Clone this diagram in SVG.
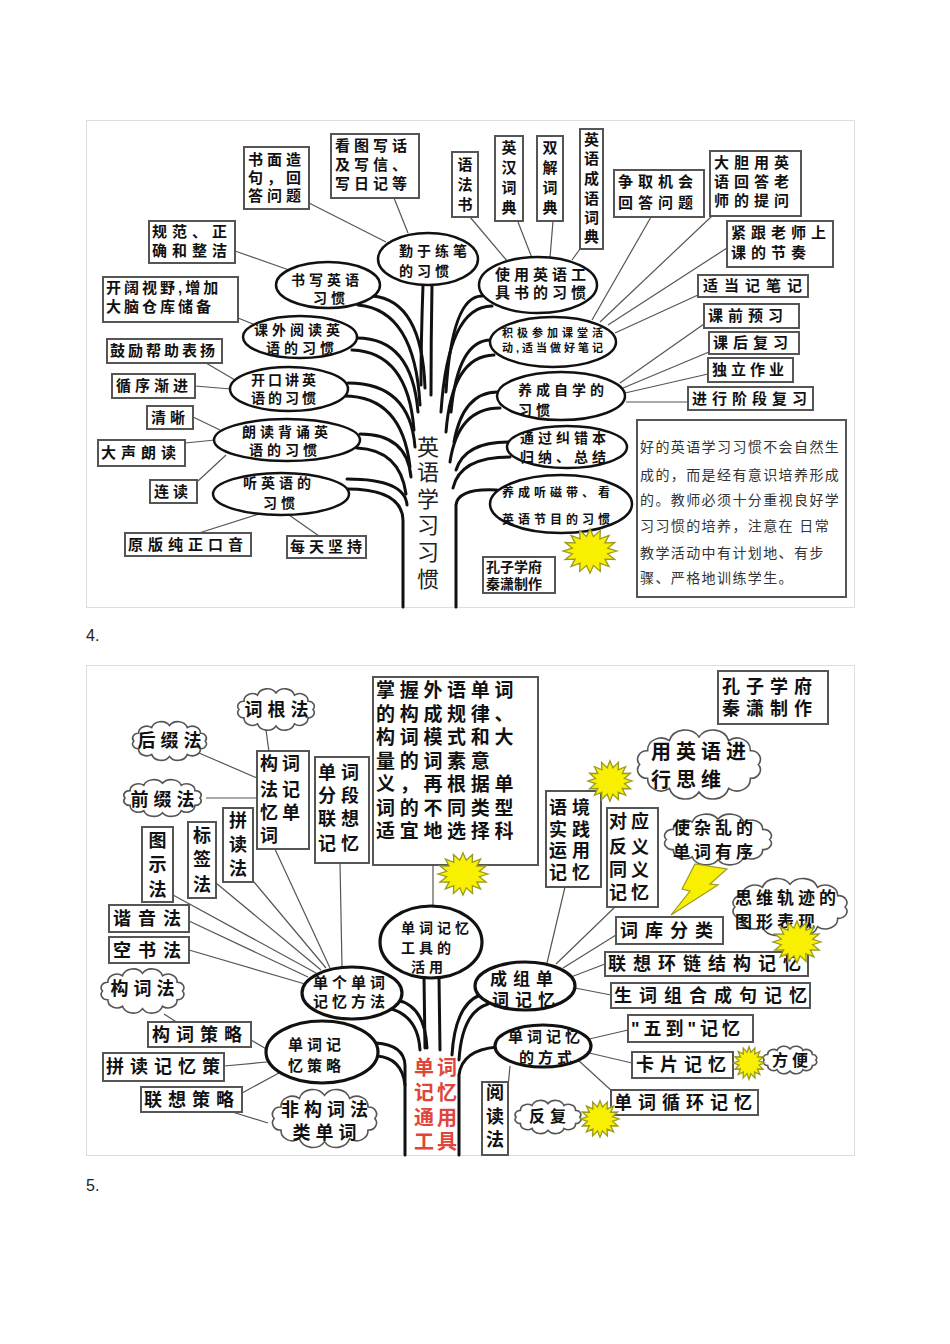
<svg xmlns="http://www.w3.org/2000/svg" xmlns:xlink="http://www.w3.org/1999/xlink" width="950" height="1344" viewBox="0 0 950 1344" lang="zh-CN">
<style>
.bg{fill:#fff}
.frame{fill:none;stroke:#ddd;stroke-width:1}
.box{fill:#fff;stroke:#555;stroke-width:2}
.ell{fill:#fff;stroke:#111;stroke-width:2.5}
.ell3{fill:#fff;stroke:#111;stroke-width:3.2}
.ln{fill:none;stroke:#555;stroke-width:1.2}
.br{fill:none;stroke:#111;stroke-width:3;stroke-linecap:round}
.t{font-family:"Liberation Sans","Noto Sans CJK SC",sans-serif;font-weight:700;fill:#111}
.n{font-family:"Liberation Sans","Noto Sans CJK SC",sans-serif;font-weight:400;fill:#333}
.m{text-anchor:middle}
.s11{font-size:11px}.s12{font-size:12px}.s14{font-size:14px}.s15{font-size:15px}.s16{font-size:16px}.s17{font-size:17px}.s18{font-size:18px}.s19{font-size:19px}.s20{font-size:20px}.s21{font-size:21px}.s22{font-size:22px}
.l3{letter-spacing:3px}.l4{letter-spacing:4px}.l5{letter-spacing:5px}.l6{letter-spacing:6px}.l7{letter-spacing:7px}
.red{fill:#e0443a}
.lbl{font-family:"Liberation Sans",sans-serif;font-size:16px;fill:#222}
</style>
<defs>
<symbol id="cloud" viewBox="0 0 100 60" preserveAspectRatio="none" overflow="visible">
<path vector-effect="non-scaling-stroke" fill="#fff" stroke="#555" stroke-width="1.6" d="M93,30 A6.8,6.8 0 0 1 87.2,41 A9.7,9.7 0 0 1 71.5,49.1 A11.9,11.9 0 0 1 50,52 A11.9,11.9 0 0 1 28.5,49.1 A9.7,9.7 0 0 1 12.8,41 A6.8,6.8 0 0 1 7,30 A6.8,6.8 0 0 1 12.8,19 A9.7,9.7 0 0 1 28.5,10.9 A11.9,11.9 0 0 1 50,8 A11.9,11.9 0 0 1 71.5,10.9 A9.7,9.7 0 0 1 87.2,19 A6.8,6.8 0 0 1 93,30 Z"/>
</symbol>
<symbol id="star" viewBox="-50 -50 100 100" preserveAspectRatio="none" overflow="visible">
<polygon vector-effect="non-scaling-stroke" fill="#f8f000" stroke="#9a9a20" stroke-width="1.3" points="48,0 31.4,6.2 44.3,18.4 26.6,17.8 33.9,33.9 17.8,26.6 18.4,44.3 6.2,31.4 0,48 -6.2,31.4 -18.4,44.3 -17.8,26.6 -33.9,33.9 -26.6,17.8 -44.3,18.4 -31.4,6.2 -48,0 -31.4,-6.2 -44.3,-18.4 -26.6,-17.8 -33.9,-33.9 -17.8,-26.6 -18.4,-44.3 -6.2,-31.4 0,-48 6.2,-31.4 18.4,-44.3 17.8,-26.6 33.9,-33.9 26.6,-17.8 44.3,-18.4 31.4,-6.2"/>
</symbol>
</defs>
<rect class="bg" x="0" y="0" width="950" height="1344"/>
<rect class="frame" x="86.5" y="120.5" width="768" height="487"/>
<rect class="frame" x="86.5" y="665.5" width="768" height="490"/>
<text class="lbl" x="86" y="641">4.</text>
<text class="lbl" x="86" y="1191">5.</text>

<g id="connectors">
<g id="upper-lines">
<path class="ln" d="M309,203 L386,242"/>
<path class="ln" d="M394,198 L408,233"/>
<path class="ln" d="M235,251 L289,270"/>
<path class="ln" d="M238,318 L253,324"/>
<path class="ln" d="M206,363 L235,380"/>
<path class="ln" d="M195,386 L231,389"/>
<path class="ln" d="M193,417 L220,430"/>
<path class="ln" d="M185,443 L215,440"/>
<path class="ln" d="M198,481 L226,455"/>
<path class="ln" d="M199,533 L259,514"/>
<path class="ln" d="M319,536 L289,515"/>
<path class="ln" d="M470,217 L508,262"/>
<path class="ln" d="M518,222 L532,258"/>
<path class="ln" d="M553,221 L550,258"/>
<path class="ln" d="M580,249 L572,260"/>
<path class="ln" d="M651,217 L592,320"/>
<path class="ln" d="M712,216 L600,322"/>
<path class="ln" d="M727,248 L608,325"/>
<path class="ln" d="M698,295 L615,333"/>
<path class="ln" d="M704,324 L620,383"/>
<path class="ln" d="M709,352 L623,388"/>
<path class="ln" d="M708,374 L625,393"/>
<path class="ln" d="M688,402 L626,402"/>
</g>
<g id="upper-branches">
<path class="br" d="M403,607 L403,520 Q402,489 347,489"/>
<path class="br" d="M456,607 L456,505 Q458,488 497,490"/>
<path class="br" d="M358,305 Q415,310 420,405"/>
<path class="br" d="M372,296 Q422,300 425,388"/>
<path class="br" d="M352,350 Q408,352 414,430"/>
<path class="br" d="M357,338 Q412,338 418,412"/>
<path class="br" d="M344,396 Q402,396 410,467"/>
<path class="br" d="M348,383 Q410,383 415,447"/>
<path class="br" d="M357,448 Q400,450 406,494"/>
<path class="br" d="M360,434 Q407,434 411,477"/>
<path class="br" d="M347,479 Q405,479 407,505"/>
<path class="br" d="M423,285 Q421,340 421,385"/>
<path class="br" d="M432,285 Q431,340 431,395"/>
<path class="br" d="M492,306 Q448,306 441,412"/>
<path class="br" d="M482,296 Q452,296 446,392"/>
<path class="br" d="M494,355 Q452,356 446,432"/>
<path class="br" d="M491,340 Q458,340 451,412"/>
<path class="br" d="M500,408 Q458,408 450,462"/>
<path class="br" d="M498,392 Q463,392 454,442"/>
<path class="br" d="M510,457 Q460,457 453,488"/>
<path class="br" d="M508,442 Q465,442 456,470"/>
</g>
<g id="lower-lines">
<path class="ln" d="M266,730 L269,752"/>
<path class="ln" d="M199,753 L257,778"/>
<path class="ln" d="M206,798 L257,798"/>
<path class="ln" d="M274,847 L330,968"/>
<path class="ln" d="M340,863 L342,967"/>
<path class="ln" d="M254,882 L326,968"/>
<path class="ln" d="M216,883 L321,970"/>
<path class="ln" d="M173,895 L316,973"/>
<path class="ln" d="M189,921 L308,977"/>
<path class="ln" d="M189,950 L305,984"/>
<path class="ln" d="M164,1014 L178,1023"/>
<path class="ln" d="M251,1040 L268,1050"/>
<path class="ln" d="M224,1066 L267,1062"/>
<path class="ln" d="M242,1093 L279,1073"/>
<path class="ln" d="M226,1110 L268,1123"/>
<path class="ln" d="M433,865 L433,907"/>
<path class="ln" d="M565,887 L547,963"/>
<path class="ln" d="M615,907 L556,964"/>
<path class="ln" d="M616,935 L563,968"/>
<path class="ln" d="M605,964 L571,977"/>
<path class="ln" d="M611,995 L575,988"/>
<path class="ln" d="M585,1040 L628,1030"/>
<path class="ln" d="M585,1052 L632,1063"/>
<path class="ln" d="M578,1060 L613,1092"/>
<path class="ln" d="M510,1066 L508,1087"/>
</g>
<g id="lower-branches">
<path class="br" d="M405,1155 L405,1065 Q404,1045 376,1043"/>
<path class="br" d="M377,1056 Q402,1058 405,1085"/>
<path class="br" d="M388,1008 Q418,1015 420,1050"/>
<path class="br" d="M396,1000 Q425,1005 427,1048"/>
<path class="br" d="M424,977 L425,1048"/>
<path class="br" d="M439,977 L440,1050"/>
<path class="br" d="M480,995 Q455,1005 452,1055"/>
<path class="br" d="M488,1004 Q462,1012 459,1060"/>
<path class="br" d="M497,1047 Q462,1050 459,1075 L459,1155"/>
</g>
</g>

<!-- ===== Upper diagram nodes ===== -->
<g id="u-trunk-text">
<text class="n s22 m" x="428" y="455" style="fill:#222">英</text>
<text class="n s22 m" x="428" y="480" style="fill:#222">语</text>
<text class="n s22 m" x="428" y="507" style="fill:#222">学</text>
<text class="n s22 m" x="428" y="533" style="fill:#222">习</text>
<text class="n s22 m" x="428" y="560" style="fill:#222">习</text>
<text class="n s22 m" x="428" y="587" style="fill:#222">惯</text>
</g>
<g id="u-e1"><ellipse class="ell" cx="428" cy="259" rx="50" ry="26"/><text class="t s14 l4" x="399" y="256">勤于练笔</text><text class="t s14 l4" x="399" y="276">的习惯</text></g>
<g id="u-e2"><ellipse class="ell" cx="328" cy="285" rx="52" ry="23"/><text class="t s14 l4" x="291" y="285">书写英语</text><text class="t s14 l4" x="313" y="303">习惯</text></g>
<g id="u-e3"><ellipse class="ell" cx="300" cy="337" rx="57" ry="21"/><text class="t s14 l4" x="254" y="335">课外阅读英</text><text class="t s14 l4" x="266" y="353">语的习惯</text></g>
<g id="u-e4"><ellipse class="ell" cx="289" cy="389" rx="59" ry="22"/><text class="t s14 l3" x="251" y="385">开口讲英</text><text class="t s14 l3" x="251" y="403">语的习惯</text></g>
<g id="u-e5"><ellipse class="ell" cx="287" cy="440" rx="73" ry="21"/><text class="t s14 l4" x="242" y="437">朗读背诵英</text><text class="t s14 l4" x="249" y="455">语的习惯</text></g>
<g id="u-e6"><ellipse class="ell" cx="281" cy="494" rx="68" ry="21"/><text class="t s14 l4" x="243" y="488">听英语的</text><text class="t s14 l4" x="263" y="508">习惯</text></g>
<g id="u-e7"><ellipse class="ell" cx="538" cy="285" rx="59" ry="28"/><text class="t s15 l4" x="495" y="280">使用英语工</text><text class="t s15 l4" x="495" y="298">具书的习惯</text></g>
<g id="u-e8"><ellipse class="ell" cx="553" cy="342" rx="63" ry="25"/><text class="t s11 l4" x="502" y="337">积极参加课堂活</text><text class="t s11 l3" x="502" y="352">动,适当做好笔记</text></g>
<g id="u-e9"><ellipse class="ell" cx="561" cy="396" rx="64" ry="24"/><text class="t s14 l4" x="518" y="395">养成自学的</text><text class="t s14 l4" x="518" y="415">习惯</text></g>
<g id="u-e10"><ellipse class="ell" cx="567" cy="447" rx="60" ry="21"/><text class="t s14 l4" x="520" y="443">通过纠错本</text><text class="t s14 l4" x="520" y="462">归纳、总结</text></g>
<g id="u-e11"><ellipse class="ell" cx="561" cy="504" rx="71" ry="29"/><text class="t s12 l4" x="502" y="497">养成听磁带、看</text><text class="t s12 l4" x="502" y="524">英语节目的习惯</text></g>

<g id="u-b1"><rect class="box" x="244" y="147" width="65" height="62"/><text class="t s15 l4" x="248" y="165">书面造</text><text class="t s15 l4" x="248" y="183">句，回</text><text class="t s15 l4" x="248" y="201">答问题</text></g>
<g id="u-b2"><rect class="box" x="331" y="134" width="88" height="64"/><text class="t s15 l4" x="335" y="151">看图写话</text><text class="t s15 l4" x="335" y="170">及写信、</text><text class="t s15 l4" x="335" y="189">写日记等</text></g>
<g id="u-b3"><rect class="box" x="149" y="221" width="86" height="42"/><text class="t s15 l5" x="152" y="237">规范、正</text><text class="t s15 l5" x="152" y="256">确和整洁</text></g>
<g id="u-b4"><rect class="box" x="103" y="277" width="135" height="45"/><text class="t s15 l3" x="106" y="293">开阔视野,增加</text><text class="t s15 l3" x="106" y="312">大脑仓库储备</text></g>
<g id="u-b5"><rect class="box" x="107" y="339" width="115" height="24"/><text class="t s15 l3" x="110" y="356">鼓励帮助表扬</text></g>
<g id="u-b6"><rect class="box" x="112" y="374" width="83" height="24"/><text class="t s15 l4" x="116" y="391">循序渐进</text></g>
<g id="u-b7"><rect class="box" x="147" y="406" width="46" height="23"/><text class="t s15 l4" x="151" y="423">清晰</text></g>
<g id="u-b8"><rect class="box" x="98" y="440" width="87" height="26"/><text class="t s15 l5" x="101" y="458">大声朗读</text></g>
<g id="u-b9"><rect class="box" x="150" y="480" width="47" height="23"/><text class="t s15 l4" x="154" y="497">连读</text></g>
<g id="u-b10"><rect class="box" x="125" y="533" width="126" height="23"/><text class="t s15 l5" x="128" y="550">原版纯正口音</text></g>
<g id="u-b11"><rect class="box" x="287" y="536" width="79" height="22"/><text class="t s15 l4" x="290" y="552">每天坚持</text></g>
<g id="u-b12"><rect class="box" x="452" y="152" width="26" height="65"/><text class="t s15 m" x="465" y="170">语</text><text class="t s15 m" x="465" y="190">法</text><text class="t s15 m" x="465" y="210">书</text></g>
<g id="u-b13"><rect class="box" x="495" y="136" width="28" height="85"/><text class="t s15 m" x="509" y="153">英</text><text class="t s15 m" x="509" y="173">汉</text><text class="t s15 m" x="509" y="193">词</text><text class="t s15 m" x="509" y="213">典</text></g>
<g id="u-b14"><rect class="box" x="537" y="136" width="26" height="85"/><text class="t s15 m" x="550" y="153">双</text><text class="t s15 m" x="550" y="173">解</text><text class="t s15 m" x="550" y="193">词</text><text class="t s15 m" x="550" y="213">典</text></g>
<g id="u-b15"><rect class="box" x="580" y="129" width="23" height="120"/><text class="t s15 m" x="591.5" y="145">英</text><text class="t s15 m" x="591.5" y="164">语</text><text class="t s15 m" x="591.5" y="184">成</text><text class="t s15 m" x="591.5" y="204">语</text><text class="t s15 m" x="591.5" y="223">词</text><text class="t s15 m" x="591.5" y="242">典</text></g>
<g id="u-b16"><rect class="box" x="614" y="170" width="90" height="47"/><text class="t s15 l5" x="618" y="187">争取机会</text><text class="t s15 l5" x="618" y="208">回答问题</text></g>
<g id="u-b17"><rect class="box" x="710" y="151" width="91" height="65"/><text class="t s15 l5" x="714" y="168">大胆用英</text><text class="t s15 l5" x="714" y="187">语回答老</text><text class="t s15 l5" x="714" y="206">师的提问</text></g>
<g id="u-b18"><rect class="box" x="727" y="221" width="106" height="46"/><text class="t s15 l5" x="731" y="238">紧跟老师上</text><text class="t s15 l5" x="731" y="258">课的节奏</text></g>
<g id="u-b19"><rect class="box" x="698" y="275" width="110" height="22"/><text class="t s15 l6" x="703" y="291">适当记笔记</text></g>
<g id="u-b20"><rect class="box" x="704" y="304" width="95" height="24"/><text class="t s15 l5" x="708" y="321">课前预习</text></g>
<g id="u-b21"><rect class="box" x="709" y="332" width="90" height="22"/><text class="t s15 l5" x="713" y="348">课后复习</text></g>
<g id="u-b22"><rect class="box" x="708" y="358" width="85" height="24"/><text class="t s15 l4" x="712" y="375">独立作业</text></g>
<g id="u-b23"><rect class="box" x="688" y="387" width="125" height="23"/><text class="t s15 l5" x="692" y="404">进行阶段复习</text></g>
<g id="u-star"><use xlink:href="#star" x="562" y="528" width="56" height="46"/></g>
<g id="u-credit"><rect class="box" x="483" y="557" width="72" height="36"/><text class="t s14" x="486" y="572">孔子学府</text><text class="t s14" x="486" y="589">秦潇制作</text></g>
<g id="u-note"><rect class="box" x="637" y="420" width="209" height="177" stroke-width="1.5"/>
<text class="n s14" x="640" y="452" style="letter-spacing:1.4px">好的英语学习习惯不会自然生</text>
<text class="n s14" x="640" y="480" style="letter-spacing:1.4px">成的，而是经有意识培养形成</text>
<text class="n s14" x="640" y="505" style="letter-spacing:1.4px">的。教师必须十分重视良好学</text>
<text class="n s14" x="640" y="531" style="letter-spacing:1.4px">习习惯的培养，注意在 日常</text>
<text class="n s14" x="640" y="558" style="letter-spacing:1.4px">教学活动中有计划地、有步</text>
<text class="n s14" x="640" y="583" style="letter-spacing:1.4px">骤、严格地训练学生。</text>
</g>

<!-- ===== Lower diagram nodes ===== -->
<g id="l-trunk-text">
<text class="t s20 red" x="414" y="1075" style="letter-spacing:3px">单词</text>
<text class="t s20 red" x="414" y="1100" style="letter-spacing:3px">记忆</text>
<text class="t s20 red" x="414" y="1125" style="letter-spacing:3px">通用</text>
<text class="t s20 red" x="414" y="1149" style="letter-spacing:3px">工具</text>
</g>
<g id="l-e1"><ellipse class="ell3" cx="431" cy="942" rx="51" ry="36"/><text class="t s14 l4" x="401" y="933">单词记忆</text><text class="t s14 l4" x="401" y="953">工具的</text><text class="t s14 l4" x="411" y="972">活用</text></g>
<g id="l-e2"><ellipse class="ell3" cx="352" cy="993" rx="50" ry="26"/><text class="t s15 l4" x="313" y="988">单个单词</text><text class="t s15 l4" x="313" y="1007">记忆方法</text></g>
<g id="l-e3"><ellipse class="ell3" cx="525" cy="986" rx="50" ry="24"/><text class="t s17 l6" x="490" y="985">成组单</text><text class="t s17 l6" x="492" y="1006">词记忆</text></g>
<g id="l-e4"><ellipse class="ell3" cx="322" cy="1052" rx="56" ry="31"/><text class="t s15 l4" x="288" y="1050">单词记</text><text class="t s15 l4" x="288" y="1071">忆策略</text></g>
<g id="l-e5"><ellipse class="ell3" cx="543" cy="1046" rx="48" ry="21"/><text class="t s15 l4" x="508" y="1042">单词记忆</text><text class="t s15 l4" x="519" y="1063">的方式</text></g>

<g id="l-c1"><use xlink:href="#cloud" x="233" y="687" width="86" height="45"/><text class="t s18 l5 m" x="279" y="716">词根法</text></g>
<g id="l-c2"><use xlink:href="#cloud" x="128" y="720" width="83" height="42"/><text class="t s18 l5 m" x="172" y="747">后缀法</text></g>
<g id="l-c3"><use xlink:href="#cloud" x="119" y="778" width="87" height="40"/><text class="t s18 l5 m" x="165" y="806">前缀法</text></g>
<g id="l-c4"><use xlink:href="#cloud" x="96" y="967" width="93" height="48"/><text class="t s18 l5 m" x="145" y="995">构词法</text></g>
<g id="l-c5"><use xlink:href="#cloud" x="266" y="1087" width="117" height="63"/><text class="t s18 l5 m" x="327" y="1116">非构词法</text><text class="t s18 l5 m" x="327" y="1139">类单词</text></g>
<g id="l-c6"><use xlink:href="#cloud" x="630" y="727" width="138" height="75"/><text class="t s20 l5" x="651" y="759">用英语进</text><text class="t s20 l5" x="651" y="787">行思维</text></g>
<g id="l-c7"><use xlink:href="#cloud" x="658" y="812" width="120" height="55"/><text class="t s17 l4" x="673" y="834">使杂乱的</text><text class="t s17 l4" x="673" y="858">单词有序</text></g>
<g id="l-c8"><use xlink:href="#cloud" x="726" y="876" width="128" height="62"/><text class="t s17 l4" x="735" y="904">思维轨迹的</text><text class="t s17 l4" x="735" y="928">图形表现</text></g>
<g id="l-c9"><use xlink:href="#cloud" x="760" y="1045" width="60" height="30"/><text class="t s16 l4 m" x="792" y="1066">方便</text></g>
<g id="l-c10"><use xlink:href="#cloud" x="511" y="1099" width="74" height="36"/><text class="t s16 l5 m" x="550" y="1122">反复</text></g>

<g id="l-b1"><rect class="box" x="257" y="751" width="52" height="98"/><text class="t s18 l4" x="260" y="770">构词</text><text class="t s18 l4" x="260" y="796">法记</text><text class="t s18 l4" x="260" y="819">忆单</text><text class="t s18 l4" x="260" y="842">词</text></g>
<g id="l-b2"><rect class="box" x="315" y="757" width="54" height="106"/><text class="t s18 l5" x="318" y="779">单词</text><text class="t s18 l5" x="318" y="802">分段</text><text class="t s18 l5" x="318" y="825">联想</text><text class="t s18 l5" x="318" y="850">记忆</text></g>
<g id="l-b3"><rect class="box" x="223" y="808" width="30" height="74"/><text class="t s18 m" x="238" y="827">拼</text><text class="t s18 m" x="238" y="851">读</text><text class="t s18 m" x="238" y="875">法</text></g>
<g id="l-b4"><rect class="box" x="188" y="822" width="28" height="76"/><text class="t s18 m" x="202" y="842">标</text><text class="t s18 m" x="202" y="866">签</text><text class="t s18 m" x="202" y="891">法</text></g>
<g id="l-b5"><rect class="box" x="142" y="827" width="31" height="75"/><text class="t s18 m" x="157.5" y="847">图</text><text class="t s18 m" x="157.5" y="871">示</text><text class="t s18 m" x="157.5" y="896">法</text></g>
<g id="l-b6"><rect class="box" x="109" y="905" width="80" height="27"/><text class="t s18 l7" x="113" y="925">谐音法</text></g>
<g id="l-b7"><rect class="box" x="109" y="937" width="80" height="26"/><text class="t s18 l7" x="113" y="957">空书法</text></g>
<g id="l-b8"><rect class="box" x="148" y="1022" width="103" height="25"/><text class="t s18 l6" x="152" y="1041">构词策略</text></g>
<g id="l-b9"><rect class="box" x="103" y="1053" width="121" height="28"/><text class="t s18 l6" x="106" y="1073">拼读记忆策</text></g>
<g id="l-b10"><rect class="box" x="141" y="1087" width="101" height="25"/><text class="t s18 l6" x="144" y="1106">联想策略</text></g>
<g id="l-b11"><rect class="box" x="373" y="677" width="165" height="188"/>
<text class="t s19" x="376" y="697" style="letter-spacing:4.7px">掌握外语单词</text>
<text class="t s19" x="376" y="721" style="letter-spacing:4.7px">的构成规律、</text>
<text class="t s19" x="376" y="744" style="letter-spacing:4.7px">构词模式和大</text>
<text class="t s19" x="376" y="768" style="letter-spacing:4.7px">量的词素意</text>
<text class="t s19" x="376" y="791" style="letter-spacing:4.7px">义，再根据单</text>
<text class="t s19" x="376" y="815" style="letter-spacing:4.7px">词的不同类型</text>
<text class="t s19" x="376" y="838" style="letter-spacing:4.7px">适宜地选择科</text>
</g>
<g id="l-b12"><rect class="box" x="546" y="791" width="55" height="96"/><text class="t s18 l5" x="549" y="814">语境</text><text class="t s18 l5" x="549" y="836">实践</text><text class="t s18 l5" x="549" y="857">运用</text><text class="t s18 l5" x="549" y="879">记忆</text></g>
<g id="l-b13"><rect class="box" x="607" y="808" width="51" height="99"/><text class="t s18 l4" x="609" y="828">对应</text><text class="t s18 l4" x="609" y="853">反义</text><text class="t s18 l4" x="609" y="876">同义</text><text class="t s18 l4" x="609" y="899">记忆</text></g>
<g id="l-b14"><rect class="box" x="718" y="671" width="110" height="53"/><text class="t s18 l6" x="722" y="693">孔子学府</text><text class="t s18 l6" x="722" y="715">秦潇制作</text></g>
<g id="l-b15"><rect class="box" x="616" y="917" width="107" height="27"/><text class="t s18 l7" x="620" y="937">词库分类</text></g>
<g id="l-b16"><rect class="box" x="605" y="952" width="203" height="24"/><text class="t s18 l7" x="608" y="970">联想环链结构记忆</text></g>
<g id="l-b17"><rect class="box" x="611" y="983" width="199" height="25"/><text class="t s18 l7" x="614" y="1002">生词组合成句记忆</text></g>
<g id="l-b18"><rect class="box" x="628" y="1015" width="125" height="27"/><text class="t s18 l4" x="631" y="1035">"五到"记忆</text></g>
<g id="l-b19"><rect class="box" x="632" y="1052" width="101" height="26"/><text class="t s18 l6" x="636" y="1071">卡片记忆</text></g>
<g id="l-b20"><rect class="box" x="611" y="1090" width="147" height="25"/><text class="t s18 l6" x="614" y="1109">单词循环记忆</text></g>
<g id="l-b21"><rect class="box" x="482" y="1082" width="26" height="73"/><text class="t s18 m" x="495" y="1099">阅</text><text class="t s18 m" x="495" y="1123">读</text><text class="t s18 m" x="495" y="1146">法</text></g>

<g id="l-stars">
<use xlink:href="#star" x="437" y="852" width="52" height="44"/>
<use xlink:href="#star" x="587" y="760" width="46" height="42"/>
<use xlink:href="#star" x="772" y="920" width="50" height="44"/>
<use xlink:href="#star" x="733" y="1046" width="32" height="34"/>
<use xlink:href="#star" x="580" y="1100" width="40" height="38"/>
</g>
<g id="l-bolt"><polygon fill="#f8f000" stroke="#9a9a20" stroke-width="1.2" points="695,864 727,869 710,884 718,885 671,915 690,891 682,889"/></g>
</svg>
